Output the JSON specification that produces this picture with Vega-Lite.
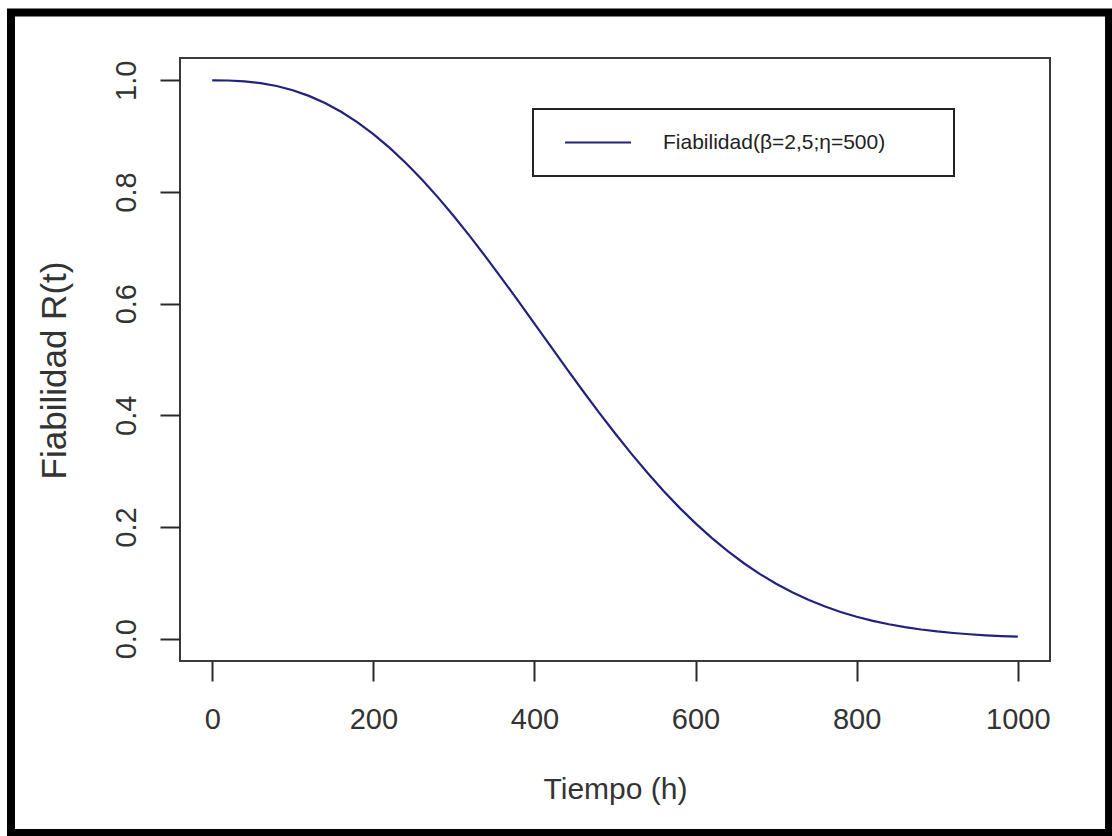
{
  "$schema": "https://vega.github.io/schema/vega-lite/v6.json",
  "width": 870,
  "height": 603,
  "autosize": {"type": "none"},
  "padding": {"left": 180, "top": 58, "right": 62, "bottom": 175},
  "background": "white",
  "config": {
    "font": "Liberation Sans",
    "view": {"stroke": "#3a3a3a", "strokeWidth": 2},
    "axis": {
      "grid": false,
      "domain": false,
      "tickColor": "#2a2a2a",
      "tickSize": 20,
      "tickWidth": 2,
      "labelFont": "Liberation Sans",
      "labelFontSize": 29,
      "labelColor": "#333333",
      "titleFont": "Liberation Sans",
      "titleFontSize": 30,
      "titleFontWeight": "normal",
      "titleColor": "#333333"
    }
  },
  "layer": [
    {
      "data": {
        "values": [
          {"t": 0, "R": 1.0, "serie": "Fiabilidad(β=2,5;η=500)"},
          {"t": 20, "R": 0.99968, "serie": "Fiabilidad(β=2,5;η=500)"},
          {"t": 40, "R": 0.99819, "serie": "Fiabilidad(β=2,5;η=500)"},
          {"t": 60, "R": 0.99502, "serie": "Fiabilidad(β=2,5;η=500)"},
          {"t": 80, "R": 0.98981, "serie": "Fiabilidad(β=2,5;η=500)"},
          {"t": 100, "R": 0.98227, "serie": "Fiabilidad(β=2,5;η=500)"},
          {"t": 120, "R": 0.97217, "serie": "Fiabilidad(β=2,5;η=500)"},
          {"t": 140, "R": 0.95936, "serie": "Fiabilidad(β=2,5;η=500)"},
          {"t": 160, "R": 0.94372, "serie": "Fiabilidad(β=2,5;η=500)"},
          {"t": 180, "R": 0.92518, "serie": "Fiabilidad(β=2,5;η=500)"},
          {"t": 200, "R": 0.90376, "serie": "Fiabilidad(β=2,5;η=500)"},
          {"t": 220, "R": 0.87948, "serie": "Fiabilidad(β=2,5;η=500)"},
          {"t": 240, "R": 0.85246, "serie": "Fiabilidad(β=2,5;η=500)"},
          {"t": 260, "R": 0.82284, "serie": "Fiabilidad(β=2,5;η=500)"},
          {"t": 280, "R": 0.79082, "serie": "Fiabilidad(β=2,5;η=500)"},
          {"t": 300, "R": 0.75666, "serie": "Fiabilidad(β=2,5;η=500)"},
          {"t": 320, "R": 0.72058, "serie": "Fiabilidad(β=2,5;η=500)"},
          {"t": 340, "R": 0.68296, "serie": "Fiabilidad(β=2,5;η=500)"},
          {"t": 360, "R": 0.64411, "serie": "Fiabilidad(β=2,5;η=500)"},
          {"t": 380, "R": 0.60438, "serie": "Fiabilidad(β=2,5;η=500)"},
          {"t": 400, "R": 0.56415, "serie": "Fiabilidad(β=2,5;η=500)"},
          {"t": 420, "R": 0.52377, "serie": "Fiabilidad(β=2,5;η=500)"},
          {"t": 440, "R": 0.48363, "serie": "Fiabilidad(β=2,5;η=500)"},
          {"t": 460, "R": 0.44405, "serie": "Fiabilidad(β=2,5;η=500)"},
          {"t": 480, "R": 0.40539, "serie": "Fiabilidad(β=2,5;η=500)"},
          {"t": 500, "R": 0.36788, "serie": "Fiabilidad(β=2,5;η=500)"},
          {"t": 520, "R": 0.33187, "serie": "Fiabilidad(β=2,5;η=500)"},
          {"t": 540, "R": 0.29755, "serie": "Fiabilidad(β=2,5;η=500)"},
          {"t": 560, "R": 0.26512, "serie": "Fiabilidad(β=2,5;η=500)"},
          {"t": 580, "R": 0.23474, "serie": "Fiabilidad(β=2,5;η=500)"},
          {"t": 600, "R": 0.20649, "serie": "Fiabilidad(β=2,5;η=500)"},
          {"t": 620, "R": 0.18049, "serie": "Fiabilidad(β=2,5;η=500)"},
          {"t": 640, "R": 0.15667, "serie": "Fiabilidad(β=2,5;η=500)"},
          {"t": 660, "R": 0.13508, "serie": "Fiabilidad(β=2,5;η=500)"},
          {"t": 680, "R": 0.11569, "serie": "Fiabilidad(β=2,5;η=500)"},
          {"t": 700, "R": 0.09835, "serie": "Fiabilidad(β=2,5;η=500)"},
          {"t": 720, "R": 0.08305, "serie": "Fiabilidad(β=2,5;η=500)"},
          {"t": 740, "R": 0.06962, "serie": "Fiabilidad(β=2,5;η=500)"},
          {"t": 760, "R": 0.05795, "serie": "Fiabilidad(β=2,5;η=500)"},
          {"t": 780, "R": 0.04785, "serie": "Fiabilidad(β=2,5;η=500)"},
          {"t": 800, "R": 0.03925, "serie": "Fiabilidad(β=2,5;η=500)"},
          {"t": 820, "R": 0.03194, "serie": "Fiabilidad(β=2,5;η=500)"},
          {"t": 840, "R": 0.02578, "serie": "Fiabilidad(β=2,5;η=500)"},
          {"t": 860, "R": 0.02066, "serie": "Fiabilidad(β=2,5;η=500)"},
          {"t": 880, "R": 0.01642, "serie": "Fiabilidad(β=2,5;η=500)"},
          {"t": 900, "R": 0.01295, "serie": "Fiabilidad(β=2,5;η=500)"},
          {"t": 920, "R": 0.01013, "serie": "Fiabilidad(β=2,5;η=500)"},
          {"t": 940, "R": 0.00786, "serie": "Fiabilidad(β=2,5;η=500)"},
          {"t": 960, "R": 0.00605, "serie": "Fiabilidad(β=2,5;η=500)"},
          {"t": 980, "R": 0.00462, "serie": "Fiabilidad(β=2,5;η=500)"},
          {"t": 1000, "R": 0.0035, "serie": "Fiabilidad(β=2,5;η=500)"}
        ]
      },
      "mark": {"type": "line", "strokeWidth": 2.2},
      "encoding": {
        "x": {
          "field": "t",
          "type": "quantitative",
          "scale": {"domain": [-40, 1040], "nice": false, "zero": false},
          "axis": {
            "values": [0, 200, 400, 600, 800, 1000],
            "format": "d",
            "title": "Tiempo (h)",
            "labelPadding": 24,
            "titlePadding": 40
          }
        },
        "y": {
          "field": "R",
          "type": "quantitative",
          "scale": {"domain": [-0.04, 1.04], "nice": false, "zero": false},
          "axis": {
            "values": [0, 0.2, 0.4, 0.6, 0.8, 1.0],
            "format": ".1f",
            "labelAngle": 270,
            "labelAlign": "center",
            "labelBaseline": "alphabetic",
            "labelPadding": 25,
            "title": "Fiabilidad R(t)",
            "titleFontSize": 35,
            "titlePadding": 40,
            "titleY": 312
          }
        },
        "color": {
          "field": "serie",
          "type": "nominal",
          "scale": {"range": ["#22227c"]},
          "legend": {
            "title": "\u00a0",
            "titleOrient": "right",
            "titlePadding": 46,
            "titleFontSize": 21,
            "orient": "none",
            "legendX": 353,
            "legendY": 51,
            "strokeColor": "#222222",
            "fillColor": "white",
            "padding": 23,
            "clipHeight": 21,
            "symbolType": "stroke",
            "symbolSize": 4356,
            "symbolStrokeWidth": 2,
            "symbolOffset": 8,
            "labelFont": "Liberation Sans",
            "labelFontSize": 21,
            "labelColor": "#222222",
            "labelOffset": 31,
            "labelLimit": 0,
            "encode": {"legend": {"update": {"strokeWidth": {"value": 2}}}}
          }
        }
      }
    },
    {
      "data": {"values": [{}]},
      "mark": {"type": "rect", "fill": null, "stroke": "black", "strokeWidth": 8, "clip": false},
      "encoding": {
        "x": {"datum": -249.8, "type": "quantitative"},
        "x2": {"datum": 1113.3},
        "y": {"datum": 1.1215, "type": "quantitative"},
        "y2": {"datum": -0.3481}
      }
    }
  ]
}
